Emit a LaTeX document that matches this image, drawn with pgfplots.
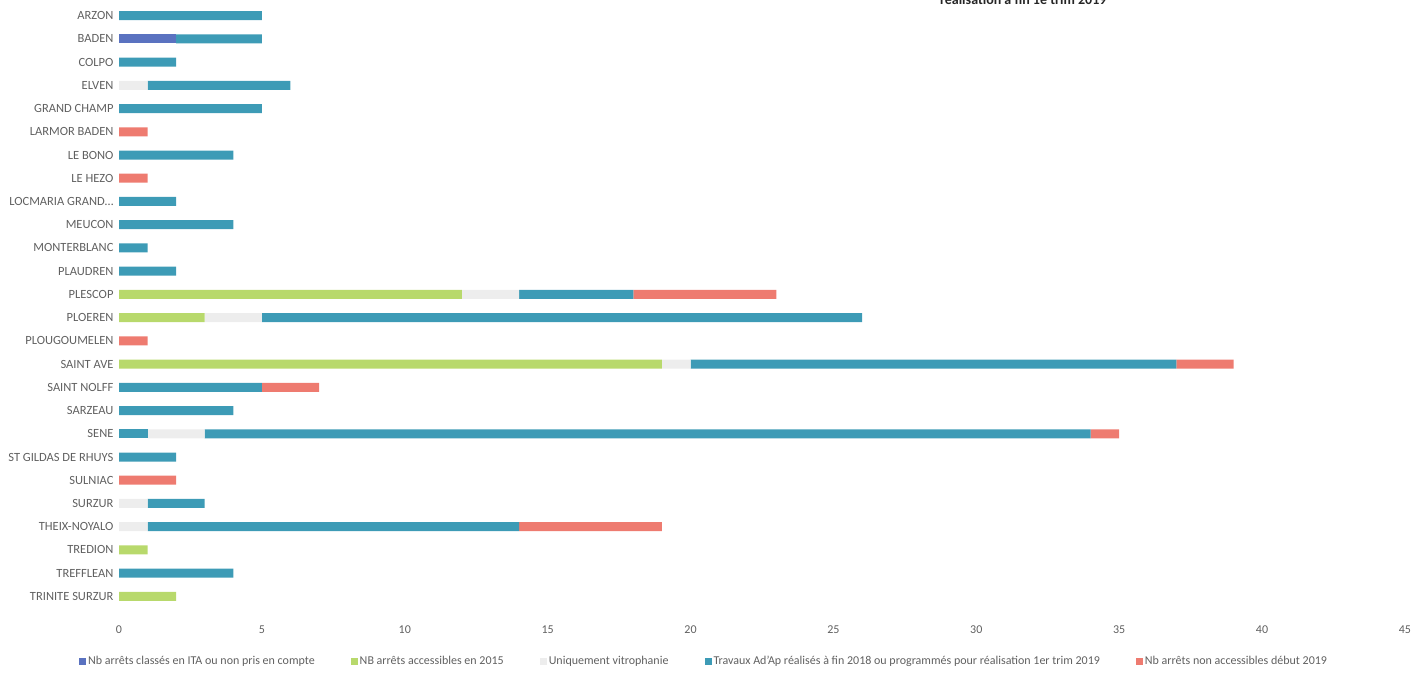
\documentclass[border=0pt]{standalone}
\usepackage{pgfplots}
\pgfplotsset{compat=1.18}
\usepackage{pgfplotstable}
\usepackage{fontspec}
\setmainfont{Carlito}

\definecolor{cita}{HTML}{5A72C0}
\definecolor{cacc}{HTML}{B8D96C}
\definecolor{cvit}{HTML}{EDEDED}
\definecolor{ctrav}{HTML}{3D9BB6}
\definecolor{cnon}{HTML}{EE7B70}
\definecolor{ctxt}{HTML}{606060}

% idx: rang de la commune ; s0 = premier segment de SENE
\pgfplotstableread{
idx s0 s1 s2 s3 s4 s5
0  0 0 0  0 5  0
1  0 2 0  0 3  0
2  0 0 0  0 2  0
3  0 0 0  1 5  0
4  0 0 0  0 5  0
5  0 0 0  0 0  1
6  0 0 0  0 4  0
7  0 0 0  0 0  1
8  0 0 0  0 2  0
9  0 0 0  0 4  0
10 0 0 0  0 1  0
11 0 0 0  0 2  0
12 0 0 12 2 4  5
13 0 0 3  2 21 0
14 0 0 0  0 0  1
15 0 0 19 1 17 2
16 0 0 0  0 5  2
17 0 0 0  0 4  0
18 1 0 0  2 31 1
19 0 0 0  0 2  0
20 0 0 0  0 0  2
21 0 0 0  1 2  0
22 0 0 0  1 13 5
23 0 0 1  0 0  0
24 0 0 0  0 4  0
25 0 0 2  0 0  0
}\communes

\begin{document}
\begin{tikzpicture}
\begin{axis}[
    at={(119pt,-608pt)}, anchor=south west,
    scale only axis,
    width=1286pt, height=604pt,
    xbar stacked,
    bar width=9pt,
    y dir=reverse,
    xmin=0, xmax=45,
    ymin=-0.5, ymax=25.5,
    xtick={0,5,10,15,20,25,30,35,40,45},
    ytick={0,1,2,3,4,5,6,7,8,9,10,11,12,13,14,15,16,17,18,19,20,21,22,23,24,25},
    yticklabels={ARZON, BADEN, COLPO, ELVEN, GRAND CHAMP, LARMOR BADEN, LE BONO, LE HEZO,
      {LOCMARIA GRAND\ldots}, MEUCON, MONTERBLANC, PLAUDREN, PLESCOP, PLOEREN, PLOUGOUMELEN,
      SAINT AVE, SAINT NOLFF, SARZEAU, SENE, ST GILDAS DE RHUYS, SULNIAC, SURZUR,
      THEIX-NOYALO, TREDION, TREFFLEAN, TRINITE SURZUR},
    axis line style={draw=none},
    major tick style={draw=none},
    /pgf/number format/assume math mode=true,
    ticklabel style={font=\fontsize{12.5}{14}\selectfont, text=ctxt},
    yticklabel style={xshift=-2pt},
    xticklabel style={yshift=-14pt, font=\fontsize{12}{14}\selectfont},
    legend columns=5,
    legend cell align=left,
    legend style={draw=none, fill=none, at={(0.455,0)}, anchor=center, yshift=-53pt,
      font=\fontsize{12}{14}\selectfont, text=ctxt,
      /tikz/every even column/.append style={column sep=34pt}},
    legend image code/.code={\fill[#1] (0pt,-3.5pt) rectangle (7pt,3.5pt);},
    every axis plot/.append style={draw=none},
]
\addplot[fill=ctrav, forget plot] table[x=s0, y=idx] {\communes};
\addplot[fill=cita] table[x=s1, y=idx] {\communes};
\addplot[fill=cacc] table[x=s2, y=idx] {\communes};
\addplot[fill=cvit] table[x=s3, y=idx] {\communes};
\addplot[fill=ctrav] table[x=s4, y=idx] {\communes};
\addplot[fill=cnon] table[x=s5, y=idx] {\communes};
\legend{Nb arrêts classés en ITA ou non pris en compte, NB arrêts accessibles en 2015,
  Uniquement vitrophanie,
  Travaux Ad'Ap réalisés à fin 2018 ou programmés pour réalisation 1er trim 2019,
  Nb arrêts  non accessibles début 2019}
\end{axis}
\node[overlay, anchor=east, font=\bfseries\fontsize{14}{16}\selectfont, text=black!85]
  at (1110pt,0pt) {réalisation à fin 1e trim 2019};
\pgfresetboundingbox
\useasboundingbox (0pt,0pt) rectangle (1427pt,-681pt);
\end{tikzpicture}
\end{document}
